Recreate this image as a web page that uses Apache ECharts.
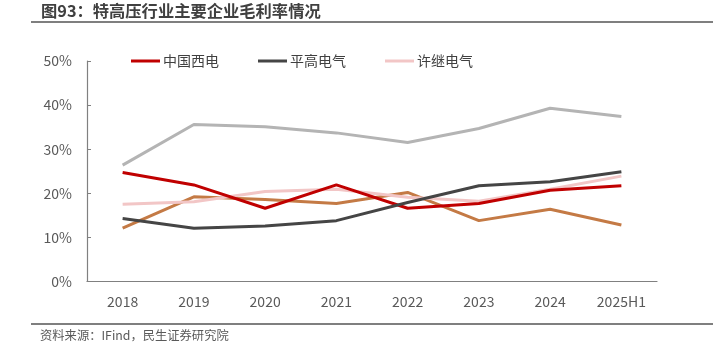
<!DOCTYPE html>
<html>
<head>
<meta charset="utf-8">
<script src="https://cdn.jsdelivr.net/npm/echarts@6/dist/echarts.min.js"></script>
<style>html,body{margin:0;padding:0;background:#fff;}#c{width:721px;height:356px;}</style>
</head>
<body>
<div id="c"></div>
<script>
var categories = ['2018','2019','2020','2021','2022','2023','2024','2025H1'];
var yTicks = [0, 10, 20, 30, 40, 50];
var xidian = [24.7, 21.9, 16.6, 21.9, 16.6, 17.7, 20.7, 21.7];
var pinggao = [14.3, 12.1, 12.6, 13.8, 17.9, 21.7, 22.6, 24.9];
var xuji = [17.5, 18.1, 20.4, 20.9, 19.1, 18.2, 20.9, 23.9];
var grayLine = [26.4, 35.6, 35.1, 33.7, 31.5, 34.7, 39.3, 37.4];
var brownLine = [12.1, 19.2, 18.6, 17.7, 20.2, 13.8, 16.4, 12.8];
var legendNames = ['中国西电', '平高电气', '许继电气'];

var font = '"Noto Sans CJK SC", "Noto Sans", sans-serif';
var chart = echarts.init(document.getElementById('c'), null, {renderer: 'canvas'});

function mk(name, data, color, z) {
  return {name: name, type: 'line', data: data, symbol: 'none', z: z,
    lineStyle: {color: color, width: 3}, itemStyle: {color: color}, animation: false};
}

chart.setOption({
  backgroundColor: '#fff',
  animation: false,
  graphic: [
    {type: 'text', left: 41, top: 3, style: {text: '图93：特高压行业主要企业毛利率情况', font: 'bold 16.3px ' + font, fill: '#404040'}},
    {type: 'line', shape: {x1: 31, y1: 22, x2: 713, y2: 22}, style: {stroke: '#7f7f7f', lineWidth: 2}},
    {type: 'line', shape: {x1: 31, y1: 324, x2: 713, y2: 324}, style: {stroke: '#7f7f7f', lineWidth: 2}},
    {type: 'text', left: 40, top: 329, style: {text: '资料来源：IFind，民生证券研究院', font: '12.3px ' + font, fill: '#595959'}}
  ],
  legend: {
    data: legendNames,
    left: 126, top: 49,
    icon: 'rect', itemWidth: 29, itemHeight: 3, itemGap: 39,
    textStyle: {fontFamily: font, fontSize: 14, color: '#404040', padding: [0,0,0,-2]}
  },
  grid: {left: 87, right: 64, top: 61, bottom: 74.5},
  xAxis: {
    type: 'category', data: categories, boundaryGap: true,
    axisLine: {lineStyle: {color: '#808080', width: 1.2}},
    axisTick: {show: false},
    axisLabel: {fontFamily: font, fontSize: 14, color: '#595959', margin: 13}
  },
  yAxis: {
    type: 'value', min: yTicks[0], max: yTicks[yTicks.length - 1], interval: 10,
    axisLine: {show: true, lineStyle: {color: '#808080', width: 1.2}},
    axisTick: {show: true, inside: true, length: 4, lineStyle: {color: '#808080'}},
    splitLine: {show: false},
    axisLabel: {fontFamily: font, fontSize: 14, color: '#595959', margin: 15, formatter: '{value}%'}
  },
  series: [
    mk('思源电气', grayLine, '#b4b4b4', 2),
    mk('特变电工', brownLine, '#c47a45', 3),
    mk('许继电气', xuji, '#f2c6c6', 4),
    mk('中国西电', xidian, '#c00000', 5),
    mk('平高电气', pinggao, '#454545', 6)
  ]
});
</script>
</body>
</html>
